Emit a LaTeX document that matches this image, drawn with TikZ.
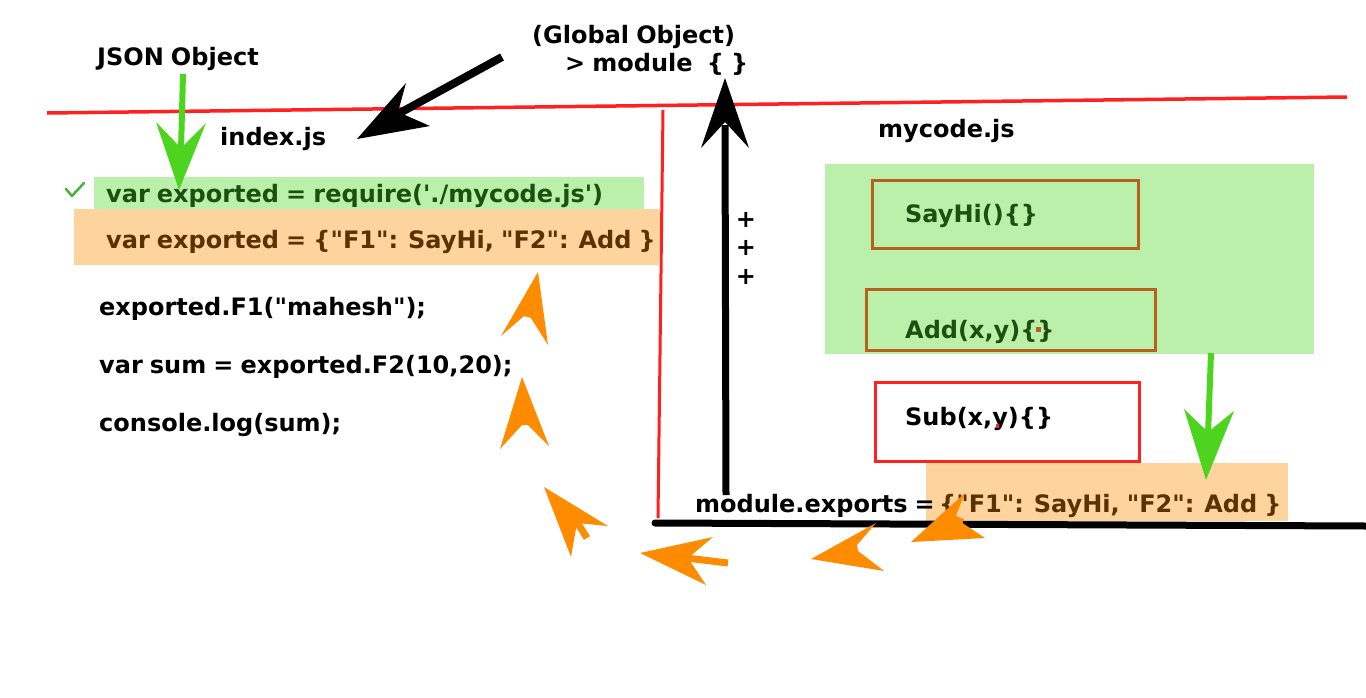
\documentclass[tikz,border=0pt]{standalone}
\usepackage{fontspec}
\setmainfont{DejaVu Sans}[Ligatures=TeXOff,WordSpace=0.85]
\definecolor{redline}{RGB}{255,32,32}
\definecolor{garrow}{RGB}{76,212,30}
\definecolor{lgreen}{RGB}{187,240,170}
\definecolor{lorange}{RGB}{253,212,158}
\definecolor{dgreen}{RGB}{28,80,14}
\definecolor{dbrown}{RGB}{90,50,0}
\definecolor{bbox}{RGB}{184,96,30}
\definecolor{oarrow}{RGB}{255,140,0}
\definecolor{chk}{RGB}{70,180,60}
\tikzset{
  txt/.style={anchor=base west,inner sep=0pt,font=\fontsize{24}{28}\selectfont\bfseries},
  redrule/.style={draw=redline,line width=3.5pt},
  orangehead/.style={fill=oarrow,draw=none},
  funbox/.style={line width=3pt}
}
\begin{document}
\begin{tikzpicture}[x=1pt,y=-1pt]
\useasboundingbox (0,0) rectangle (1366,697);
% top labels
\node[txt] (json) at (97,65) {JSON Object};
\node[txt] (glob) at (532,43) {(Global Object)};
\node[txt] (mod) at (565,71) {> module~ \{ \}};
% red rules
\draw[redrule] (47,113) -- (1347,97);
\draw[redrule,line width=3pt] (663,110) -- (658,518);
% titles
\node[txt] (idx) at (220,145) {index.js};
\node[txt] (myc) at (878,137) {mycode.js};
% index.js highlights
\fill[lgreen] (94,177) rectangle (644,209);
\fill[lorange] (74,209) rectangle (660,265);
\node[txt,text=dgreen] (req) at (106,202) {var exported = require('./mycode.js')};
\node[txt,text=dbrown] (obj) at (106,248) {var exported = \{"F1": SayHi, "F2": Add \}};
\draw[chk,line width=2.5pt,line cap=round,line join=round] (66,189) -- (72,196) -- (84,183);
\node[txt] (l1) at (99,315) {exported.F1("mahesh");};
\node[txt] (l2) at (99,373) {var sum = exported.F2(10,20);};
\node[txt] (l3) at (99,431) {console.log(sum);};
% mycode.js
\fill[lgreen] (825,164) rectangle (1314,354);
\draw[bbox,funbox] (872,180) rectangle (1138,248);
\node[txt,text=dgreen] (sayhi) at (905,222) {SayHi()\{\}};
\draw[bbox,funbox] (866,289) rectangle (1155,350);
\node[txt,text=dgreen] (add) at (905,338) {Add(x,y)\{\}};
\fill[bbox] (1036,327) rectangle (1041,332);
\draw[redline,funbox] (875,382) rectangle (1139,461);
\node[txt] (sub) at (905,425) {Sub(x,y)\{\}};
\fill[redline] (996,424) rectangle (999,428);
\fill[lorange] (926,463) rectangle (1288,521);
\node[txt] (mexp) at (695,512) {module.exports =};
\node[txt,text=dbrown] (mobj) at (939,512) {\{"F1": SayHi, "F2": Add \}};
% plus signs
\node[txt,anchor=center] (p1) at (746,220) {+};
\node[txt,anchor=center] (p2) at (746,248) {+};
\node[txt,anchor=center] (p3) at (746,277) {+};
% black lines / arrows
\draw[line width=7pt,line cap=round] (655,523) -- (1366,526);
\draw[line width=7pt] (726,495) -- (725,125);
\fill (725,78) -- (749,148) -- (725,122) -- (701,148) -- cycle;
\draw[line width=8pt] (502,57) -- (398,114);
\fill (357,139) -- (406,83) -- (398,112) -- (430,126) -- cycle;
% green arrows
\draw[garrow,line width=6pt] (183,74) -- (181,150);
\fill[garrow] (179,190) -- (156,122) -- (181,148) -- (206,123) -- cycle;
\draw[garrow,line width=6pt] (1211,353) -- (1208,435);
\fill[garrow] (1206,480) -- (1184,409) -- (1208,432) -- (1234,411) -- cycle;
% orange arrows
\fill[orangehead] (538,272) -- (501,336) -- (524,316) -- (531,318) -- (548,345) -- cycle;
\fill[orangehead] (522,377) -- (500,449) -- (522,425) -- (528,425) -- (549,446) -- cycle;
\fill[orangehead] (544,487) -- (608,526) -- (577,523) -- (571,557) -- cycle;
\draw[oarrow,line width=7pt] (577,522) -- (587,538);
\fill[orangehead] (640,553) -- (713,537) -- (688,558) -- (706,585) -- cycle;
\draw[oarrow,line width=7pt] (686,558) -- (728,563);
\fill[orangehead] (811,559) -- (876,523) -- (857,545) -- (858,551) -- (884,571) -- cycle;
\fill[orangehead] (911,542) -- (965,493) -- (955,518) -- (985,538) -- cycle;
\draw[oarrow,line width=6pt] (953,518) -- (963,522);
\end{tikzpicture}
\end{document}
